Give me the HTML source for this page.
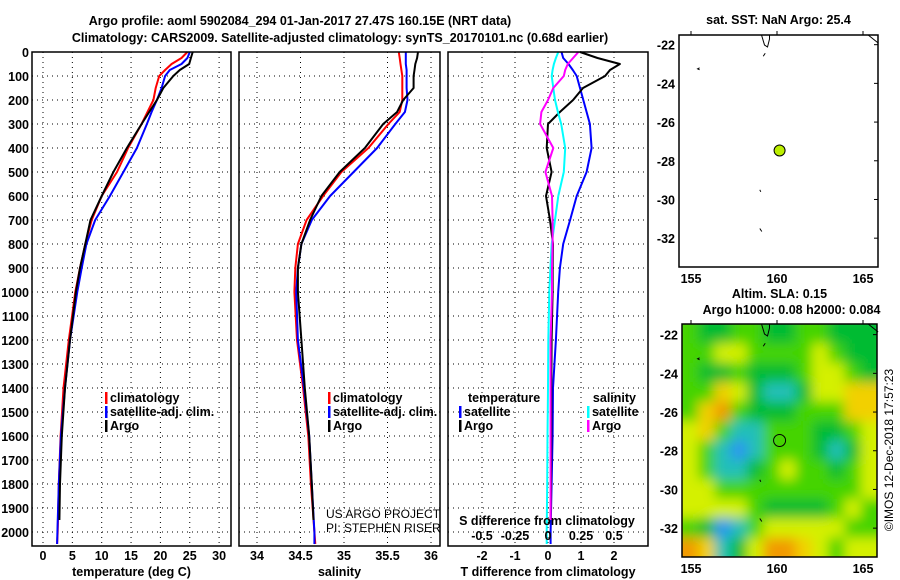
<!DOCTYPE html>
<html><head><meta charset="utf-8">
<style>
html,body{margin:0;padding:0;background:#fff;}
svg{display:block;font-family:"Liberation Sans",Arial,sans-serif;}
.b{font-weight:bold;font-size:12.5px;}
.grid{stroke:#000;stroke-width:1;stroke-dasharray:1,4;fill:none;}
.frame{fill:none;stroke:#000;stroke-width:1.5;}
.pl{fill:none;stroke-width:2;stroke-linejoin:round;}
</style></head>
<body>
<svg id="fig" width="900" height="580" viewBox="0 0 900 580">
<text class="b" x="300" y="25" text-anchor="middle">Argo profile: aoml 5902084_294 01-Jan-2017 27.47S 160.15E (NRT data)</text>
<text class="b" x="340" y="42" text-anchor="middle">Climatology: CARS2009. Satellite-adjusted climatology: synTS_20170101.nc (0.68d earlier)</text>
<g id="g1"></g>
<g id="g2"></g>
<g id="g3"></g>
<g id="g4"></g>
<g id="g5"></g>
<text x="893" y="450" font-size="12" transform="rotate(-90 893 450)" text-anchor="middle">©IMOS 12-Dec-2018 17:57:23</text>
</svg>
<script>
// ---- data ----
const depthTickLabels=[0,100,200,300,400,500,600,700,800,900,1000,1100,1200,1300,1400,1500,1600,1700,1800,1900,2000];
const tTicks=[0,5,10,15,20,25,30];
const sTicks=[34,34.5,35,35.5,36];
const dTTicks=[-2,-1,0,1,2];
const dSTicks=[-0.5,-0.25,0,0.25,0.5];
const dSTickLabels=['-0.5','-0.25','0','0.25','0.5'];
const depths=[0,25,50,75,100,150,200,250,300,400,500,600,700,800,900,1000,1200,1400,1600,1800,2000,2050];
const tClim=[24.6,23.6,21.9,20.8,19.8,19.2,18.8,17.8,16.8,14.5,12.6,10.0,8.3,7.2,6.3,5.5,4.4,3.5,3.0,2.7,2.5,2.4];
const tSat=[25.0,24.6,23.6,21.6,20.8,20.2,19.4,18.5,17.7,16.0,13.7,11.4,8.9,7.4,6.6,5.85,4.6,3.75,3.05,2.7,2.45,2.4];
const argoDepths=[0,25,50,75,100,150,200,250,300,400,500,600,700,800,900,1000,1200,1400,1600,1800,1950];
const tArgo=[25.5,25.2,24.9,23.3,22.2,20.5,19.4,18.1,16.8,14.3,12.0,10.0,8.1,7.2,6.3,5.6,4.6,3.75,3.2,2.9,2.8];
const sClim=[35.63,35.64,35.65,35.66,35.67,35.67,35.67,35.64,35.51,35.28,34.97,34.76,34.57,34.47,34.44,34.43,34.46,34.53,34.59,34.62,34.66,34.67];
const sSat=[35.71,35.71,35.71,35.72,35.72,35.72,35.73,35.70,35.59,35.38,35.11,34.84,34.63,34.51,34.47,34.45,34.47,34.54,34.60,34.63,34.66,34.66];
const sArgo=[35.85,35.84,35.82,35.81,35.80,35.80,35.68,35.61,35.45,35.24,34.95,34.74,34.61,34.51,34.47,34.47,34.51,34.55,34.60,34.63,34.65];
const dTArgo=[0.97,1.5,2.18,1.88,1.73,1.06,0.76,0.36,0.0,-0.04,0.11,-0.06,0.06,0.15,0.14,0.14,0.11,0.1,0.1,0.09,0.08];
const dSArgo=[0.23,0.19,0.15,0.13,0.12,0.04,0.0,-0.05,-0.06,0.04,-0.02,0.03,0.035,0.035,0.03,0.03,0.02,0.02,0.02,0.02,0.02];
const dTSat=[0.41,0.46,0.62,0.75,0.87,0.97,1.07,1.17,1.27,1.32,1.17,0.87,0.67,0.46,0.36,0.31,0.24,0.15,0.14,0.11,0.08,0.08];
const dSSat=[0.078,0.06,0.045,0.035,0.028,0.04,0.053,0.075,0.10,0.13,0.12,0.078,0.053,0.028,0.018,0.01,0.002,0.0,-0.004,-0.006,-0.01,-0.01];
const latTicks=[-22,-24,-26,-28,-30,-32];
const lonTicks=[155,160,165];
const argoLon=160.15, argoLat=-27.47;
const slaLevels=['#2a96f0','#22c0b8','#00bb30','#44d400','#d4f000','#f2d000','#f29a00'];
const slaGrid=[
[3,2,2,3,3,2,2,3,3,2,2,2],
[3,3,4,4,3,3,3,3,4,3,2,2],
[3,2,2,3,2,2,2,3,4,4,3,2],
[3,3,5,4,2,1,1,2,4,4,5,5],
[3,5,6,3,2,2,2,3,3,3,5,5],
[4,5,3,1,1,3,3,3,2,2,3,4],
[4,3,1,0,1,3,3,3,2,1,2,4],
[4,3,1,1,2,3,4,3,3,2,3,4],
[4,4,3,3,3,3,3,3,3,3,3,4],
[4,4,4,4,3,2,2,2,2,3,4,3],
[3,2,0,1,3,4,4,4,4,4,3,3],
[6,5,1,2,4,6,6,5,4,3,4,4]];

// ---- helpers ----
const NS='http://www.w3.org/2000/svg';
function mk(parent,tag,attrs,txt){const e=document.createElementNS(NS,tag);for(const k in attrs)e.setAttribute(k,attrs[k]);if(txt!==undefined)e.textContent=txt;parent.appendChild(e);return e;}
const Y0=52, YS=0.24, PB=546;
const yD=d=>Y0+d*YS;
const xT=v=>43+v*5.87;
const xS=v=>257+(v-34)*87;
const xDT=v=>548+v*33;
const xDS=v=>548+v*132;

function panel(g,x0,x1,xf,ticks,labels,title){
  for(const t of ticks){const l=mk(g,'line',{x1:xf(t),x2:xf(t),y1:Y0,y2:PB,class:'grid'});
    
    }
  for(const d of depthTickLabels){const l=mk(g,'line',{x1:x0,x2:x1,y1:yD(d),y2:yD(d),class:'grid'});
    
    }
  ticks.forEach((t,i)=>{const e=mk(g,'text',{x:xf(t),y:560,class:'b','text-anchor':'middle'},labels[i]);
    
    });
  const tt=mk(g,'text',{x:(x0+x1)/2,y:576,class:'b','text-anchor':'middle'},title);
  
  
}
function line(g,xs,ys,xf,color,name){
  const pts=xs.map((v,i)=>xf(v).toFixed(1)+','+yD(ys[i]).toFixed(1)).join(' ');
  const p=mk(g,'polyline',{points:pts,class:'pl',stroke:color});
  
  
}
function frame(g,x0,y0,x1,y1){const r=mk(g,'rect',{x:x0,y:y0,width:x1-x0,height:y1-y0,class:'frame'});
  
  }
function legend(g,x,y,items){
  items.forEach((it,i)=>{
    const r=mk(g,'rect',{x:x,y:y+i*14-10,width:2.5,height:12,fill:it[1]});
    
    
    const t=mk(g,'text',{x:x+5,y:y+i*14,class:'b'},it[0]);
    
    
  });
}

// ---- panel 1 ----
const g1=document.getElementById('g1');
panel(g1,32,231,xT,tTicks,tTicks.map(String),'temperature (deg C)');
depthTickLabels.forEach(d=>{const e=mk(g1,'text',{x:29,y:yD(d)+5,class:'b','text-anchor':'end'},String(d));
  
  });
line(g1,tClim,depths,xT,'#ff0000','temp-climatology-line');
line(g1,tSat,depths,xT,'#0000ff','temp-satellite-line');
line(g1,tArgo,argoDepths,xT,'#000000','temp-argo-line');
frame(g1,32,52,231,546);
legend(g1,105,402,[['climatology','#ff0000'],['satellite-adj. clim.','#0000ff'],['Argo','#000']]);

// ---- panel 2 ----
const g2=document.getElementById('g2');
panel(g2,239,440,xS,sTicks,['34','34.5','35','35.5','36'],'salinity');
line(g2,sClim,depths,xS,'#ff0000','sal-climatology-line');
line(g2,sSat,depths,xS,'#0000ff','sal-satellite-line');
line(g2,sArgo,argoDepths,xS,'#000000','sal-argo-line');
legend(g2,328,402,[['climatology','#ff0000'],['satellite-adj. clim.','#0000ff'],['Argo','#000']]);
const cp=mk(g2,'clipPath',{id:'cp2'});mk(cp,'rect',{x:239,y:52,width:201,height:494});
const gt=mk(g2,'g',{'clip-path':'url(#cp2)'});
const a1=mk(gt,'text',{x:326,y:518,'font-size':'12'},'US ARGO PROJECT');


const a2=mk(gt,'text',{x:326,y:532,'font-size':'12'},'PI: STEPHEN RISER');


frame(g2,239,52,440,546);

// ---- panel 3 ----
const g3=document.getElementById('g3');
panel(g3,448,648,xDT,dTTicks,dTTicks.map(String),'T difference from climatology');
line(g3,dTSat,depths,xDT,'#0000ff','dT-satellite-line');
line(g3,dTArgo,argoDepths,xDT,'#000000','dT-argo-line');
line(g3,dSSat,depths,xDS,'#00ffff','dS-satellite-line');
line(g3,dSArgo,argoDepths,xDS,'#ff00ff','dS-argo-line');
legend(g3,459,416,[['satellite','#0000ff'],['Argo','#000']]);
legend(g3,587,416,[['satellite','#00ffff'],['Argo','#ff00ff']]);
const lt=mk(g3,'text',{x:468,y:402,class:'b'},'temperature');


const ls=mk(g3,'text',{x:636,y:402,class:'b','text-anchor':'end'},'salinity');


const st=mk(g3,'text',{x:547,y:525,class:'b','text-anchor':'middle'},'S difference from climatology');


dSTicks.forEach((t,i)=>{const e=mk(g3,'text',{x:xDS(t),y:540,class:'b','text-anchor':'middle'},dSTickLabels[i]);
  
  });
frame(g3,448,52,648,546);

// ---- maps ----
function map(g,x0,y0,x1,y1,lat0,title1,title2,heat){
  const xm=lo=>691+(lo-155)*17.2;
  const ym=la=>y0+(lat0-la)*19.35;
  if(heat){
    const f=mk(g,'filter',{id:'blur',x:'-5%',y:'-5%',width:'110%',height:'110%'});mk(f,'feGaussianBlur',{stdDeviation:'6'});
    const cp=mk(g,'clipPath',{id:'cpm'});mk(cp,'rect',{x:x0,y:y0,width:x1-x0,height:y1-y0});
    const gc=mk(g,'g',{'clip-path':'url(#cpm)'});
    const gh=mk(gc,'g',{filter:'url(#blur)'});
    const nr=heat.length,nc=heat[0].length,cw=(x1-x0)/nc,ch=(y1-y0)/nr;
    heat.forEach((row,r)=>row.forEach((v,c)=>{
      const e=mk(gh,'rect',{x:x0+c*cw-(c==0?10:0),y:y0+r*ch-(r==0?10:0),width:cw+(c==0||c==nc-1?11:1),height:ch+(r==0||r==nr-1?11:1),fill:slaLevels[v]});
      
      
    }));
  }
  const cst=mk(g,'path',{d:`M${xm(159.1)},${y0} l3,10 l3,2 l2,-8 l0,-4 M${xm(159.2)},${ym(-22.6)} l2,-3 M${xm(155.5)},${ym(-23.3)} l-2,-1 l2,-1 M${xm(159.0)},${ym(-29.5)} l1,2 M${xm(159.0)},${ym(-31.5)} l2,3 M${xm(165.3)},${y0} l10,8`,fill:'none',stroke:'#000','stroke-width':1});
  
  
  frame(g,x0,y0,x1,y1);
  latTicks.forEach(la=>{
    mk(g,'line',{x1:x1,x2:x1-4,y1:ym(la),y2:ym(la),stroke:'#000'});
    const e=mk(g,'text',{x:x0-4,y:ym(la)+5,class:'b','text-anchor':'end'},String(la));
    
    });
  lonTicks.forEach(lo=>{
    mk(g,'line',{x1:xm(lo),x2:xm(lo),y1:y0,y2:y0-4,stroke:'#000'});
    const e=mk(g,'text',{x:xm(lo),y:y1+16,class:'b','text-anchor':'middle'},String(lo));
    
    });
  const c=mk(g,'circle',{cx:xm(argoLon),cy:ym(argoLat),r:heat?6:5.5,fill:heat?'none':'#bbee00',stroke:'#000','stroke-width':1});
  
  
  const t1=mk(g,'text',{x:(x0+x1)/2,y:heat?y0-26:y0-11,class:'b','text-anchor':'middle','font-size':'12'},title1);
  
  
  if(title2){const t2=mk(g,'text',{x:(x0+x1)/2+12,y:y0-10,class:'b','text-anchor':'middle'},title2);
    
    }
}
map(document.getElementById('g4'),679,35,878,267,-21.5,'sat. SST: NaN Argo: 25.4',null,null);
map(document.getElementById('g5'),682,324,877,557,-21.45,'Altim. SLA: 0.15','Argo h1000: 0.08 h2000: 0.084',slaGrid);
</script>
</body></html>
